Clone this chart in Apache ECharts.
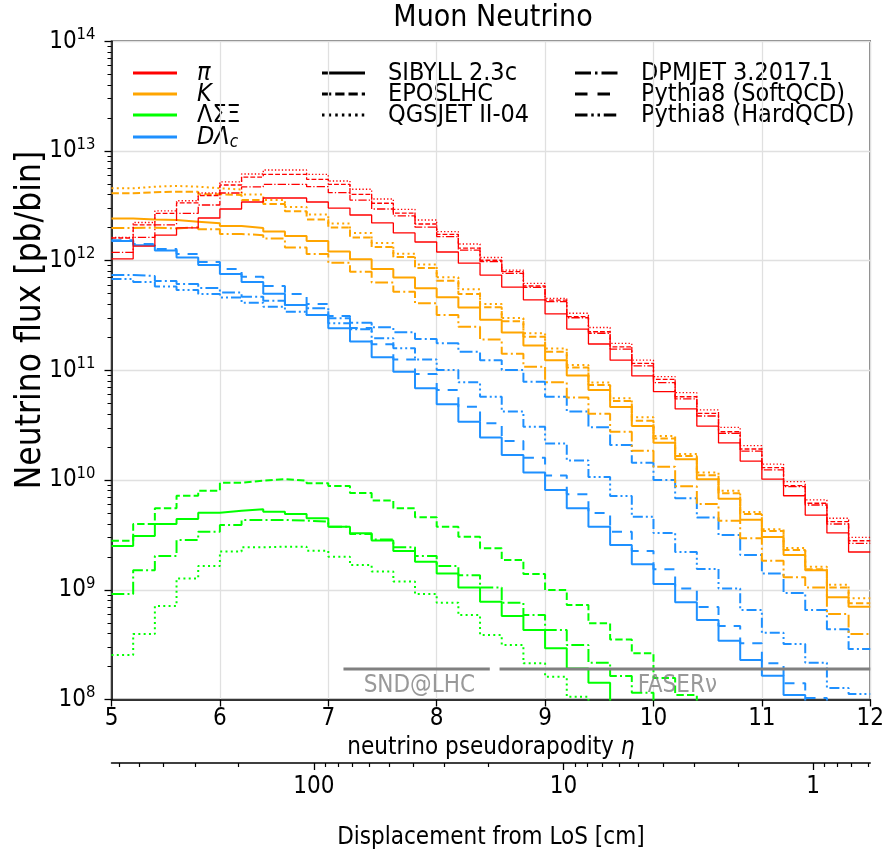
<!DOCTYPE html>
<html><head><meta charset="utf-8">
<script src="https://cdn.jsdelivr.net/npm/echarts@6/dist/echarts.min.js"></script>
<style>html,body{margin:0;padding:0;background:#fff}#c{width:887px;height:857px}</style>
</head><body><div id="c"></div>
<script>
// ---------- data (neutrino flux in pb/bin, bins of width 0.2 in eta) ----------
const etaEdges = [5.0,5.2,5.4,5.6,5.8,6.0,6.2,6.4,6.6,6.8,7.0,7.2,7.4,7.6,7.8,8.0,8.2,8.4,8.6,8.8,9.0,9.2,9.4,9.6,9.8,10.0,10.2,10.4,10.6,10.8,11.0,11.2,11.4,11.6,11.8,12.0];

const piSibyll = [1.04e12,1.36e12,1.71e12,1.99e12,2.45e12,2.96e12,3.43e12,3.73e12,3.73e12,3.43e12,3.02e12,2.61e12,2.21e12,1.79e12,1.48e12,1.20e12,9.5e11,7.4e11,5.75e11,4.4e11,3.27e11,2.38e11,1.74e11,1.24e11,8.9e10,6.4e10,4.45e10,3.11e10,2.18e10,1.49e10,1.02e10,7.2e9,4.8e9,3.3e9,2.21e9];
const piEpos = [1.61e12,2.12e12,2.70e12,3.36e12,3.93e12,4.90e12,5.79e12,6.13e12,6.13e12,5.52e12,4.97e12,4.03e12,3.34e12,2.72e12,2.16e12,1.74e12,1.30e12,1.01e12,7.94e11,5.88e11,4.38e11,3.09e11,2.25e11,1.64e11,1.16e11,8.30e10,5.75e10,4.06e10,2.76e10,1.92e10,1.30e10,8.89e9,6.15e9,4.18e9,2.80e9];
const piQgsjet = [1.63e12,2.23e12,2.84e12,3.52e12,4.14e12,5.22e12,6.17e12,6.71e12,6.71e12,6.13e12,5.33e12,4.48e12,3.65e12,2.94e12,2.35e12,1.84e12,1.42e12,1.07e12,8.22e11,6.22e11,4.54e11,3.32e11,2.46e11,1.76e11,1.24e11,8.76e10,6.26e10,4.36e10,3.03e10,2.06e10,1.40e10,9.67e9,6.59e9,4.49e9,3.01e9];
const piDpmjet = [1.19e12,1.63e12,2.12e12,2.70e12,3.22e12,4.14e12,4.70e12,4.97e12,4.97e12,4.73e12,4.17e12,3.57e12,2.96e12,2.56e12,2.02e12,1.66e12,1.25e12,9.79e11,7.67e11,5.72e11,4.23e11,3.02e11,2.18e11,1.56e11,1.10e11,7.73e10,5.49e10,3.84e10,2.67e10,1.84e10,1.24e10,8.71e9,5.93e9,3.98e9,2.65e9];

const kSibyll = [2.43e12,2.38e12,2.35e12,2.27e12,2.19e12,2.07e12,1.99e12,1.85e12,1.68e12,1.51e12,1.21e12,1.03e12,8.40e11,7.03e11,5.60e11,4.64e11,3.74e11,2.90e11,2.22e11,1.69e11,1.24e11,8.99e10,6.63e10,4.64e10,3.11e10,2.19e10,1.55e10,1.02e10,6.76e9,4.36e9,3.03e9,2.08e9,1.51e9,8.55e8,7.01e8];
const kEpos = [4.11e12,4.21e12,4.26e12,4.26e12,4.03e12,3.97e12,3.57e12,3.29e12,2.82e12,2.38e12,2.01e12,1.63e12,1.33e12,1.08e12,8.58e11,6.57e11,4.97e11,3.76e11,2.81e11,2.03e11,1.48e11,1.06e11,7.36e10,5.26e10,3.48e10,2.40e10,1.66e10,1.11e10,7.58e9,4.91e9,3.44e9,2.31e9,1.54e9,1.05e9,7.53e8];
const kQgsjet = [4.57e12,4.73e12,4.80e12,4.73e12,4.57e12,4.46e12,4.01e12,3.57e12,3.09e12,2.64e12,2.18e12,1.79e12,1.45e12,1.16e12,9.23e11,7.06e11,5.49e11,4.03e11,3.00e11,2.18e11,1.58e11,1.12e11,7.76e10,5.57e10,3.74e10,2.52e10,1.73e10,1.17e10,8.00e9,5.12e9,3.56e9,2.40e9,1.62e9,1.11e9,8.37e8];
const kDpmjet = [1.99e12,2.00e12,1.97e12,2.02e12,1.93e12,1.75e12,1.71e12,1.59e12,1.32e12,1.15e12,9.59e11,7.94e11,6.33e11,5.22e11,4.09e11,3.20e11,2.50e11,1.91e11,1.42e11,1.08e11,7.80e10,5.66e10,4.03e10,2.76e10,1.85e10,1.32e10,8.78e9,6.05e9,4.27e9,2.95e9,1.84e9,1.30e9,1.05e9,6.02e8,3.95e8];

// hyperons: last entry is the first bin that falls below the plotted range
const hypSibyll = [2.51e9,3.09e9,3.98e9,4.42e9,5.05e9,5.26e9,5.42e9,5.15e9,4.91e9,4.49e9,3.76e9,3.27e9,2.81e9,2.26e9,1.80e9,1.41e9,1.05e9,7.79e8,5.77e8,4.30e8,2.93e8,1.92e8,1.42e8,6e7];
const hypEpos = [2.80e9,3.98e9,5.53e9,7.21e9,8.00e9,9.47e9,9.87e9,1.02e10,9.87e9,9.35e9,8.84e9,7.63e9,6.52e9,5.53e9,4.58e9,3.76e9,3.05e9,2.39e9,1.87e9,1.39e9,9.96e8,7.27e8,4.95e8,3.52e8,2.64e8,1.57e8,1.10e8,6e7];
const hypQgsjet = [2.55e8,3.95e8,7.12e8,1.27e9,1.65e9,2.23e9,2.44e9,2.47e9,2.47e9,2.27e9,2.00e9,1.68e9,1.47e9,1.19e9,9.16e8,7.63e8,5.89e8,3.87e8,3.14e8,2.14e8,1.61e8,1.06e8,6e7];
const hypDpmjet = [9.16e8,1.51e9,2.03e9,2.84e9,3.39e9,3.90e9,4.33e9,4.33e9,4.27e9,4.18e9,3.76e9,3.23e9,2.87e9,2.44e9,2.03e9,1.65e9,1.36e9,1.05e9,7.63e8,5.89e8,4.30e8,3.14e8,2.16e8,1.64e8,1.15e8,6e7];

const charmSibyll = [1.51e12,1.38e12,1.24e12,1.07e12,9.14e11,7.57e11,6.40e11,5.00e11,3.95e11,3.20e11,2.42e11,1.83e11,1.32e11,9.73e10,6.87e10,4.91e10,3.41e10,2.45e10,1.69e10,1.17e10,8.13e9,5.53e9,3.76e9,2.56e9,1.71e9,1.13e9,7.69e8,5.31e8,3.44e8,2.29e8,1.65e8,1.10e8,6e7];
const charmDpmjet = [7.41e11,7.26e11,6.53e11,6.14e11,5.64e11,5.13e11,4.70e11,4.32e11,3.95e11,3.68e11,2.99e11,2.72e11,2.47e11,2.23e11,1.93e11,1.77e11,1.48e11,1.24e11,1.01e11,7.89e10,5.75e10,4.21e10,3.03e10,2.09e10,1.44e10,1.00e10,6.82e9,4.56e9,3.16e9,2.08e9,1.41e9,9.35e8,6.55e8,4.36e8,2.89e8];
const charmPythiaSoft = [1.54e12,1.42e12,1.28e12,1.15e12,9.73e11,8.40e11,7.15e11,5.88e11,4.97e11,4.03e11,3.13e11,2.44e11,1.73e11,1.26e11,9.27e10,6.63e10,4.67e10,3.30e10,2.27e10,1.60e10,1.10e10,7.43e9,5.01e9,3.39e9,2.26e9,1.54e9,1.03e9,6.97e8,4.68e8,3.25e8,2.14e8,1.41e8,1.03e8,6e7];
const charmPythiaHard = [6.81e11,6.40e11,5.82e11,5.41e11,4.97e11,4.62e11,4.14e11,3.81e11,3.43e11,3.20e11,2.69e11,2.37e11,1.96e11,1.59e11,1.26e11,1.01e11,7.79e10,5.75e10,4.21e10,3.07e10,2.16e10,1.51e10,1.07e10,7.16e9,4.64e9,3.30e9,2.21e9,1.55e9,1.03e9,6.55e8,4.06e8,3.21e8,2.16e8,1.27e8,1.12e8];

// detector acceptance annotations
const sndEta = [7.14, 8.49];
const faserEta = [8.58, 12.0];
const detectorLevel = 1.9e8;
const detectorLabels = [{name:'SND@LHC', eta:7.84, flux:1.33e8},{name:'FASERν', eta:10.22, flux:1.33e8}];

// y tick labels, displacement axis ticks
const yTickExponents = [8,9,10,11,12,13,14];
const dispMajor = [100, 10, 1];
const dispMinor = [600,500,400,300,200,90,80,70,60,50,40,30,20,9,8,7,6,5,4,3,2,0.9,0.8,0.7,0.6];
// displacement from line of sight (cm) -> pseudorapidity, distance 480 m
const dispToEta = d => Math.log(2 * 48000 / d);

// ---------- style ----------
const F = "'DejaVu Sans Condensed','DejaVu Sans',sans-serif";
const C = {pi:'#ff0000', K:'#ffa500', hyp:'#00ff00', charm:'#1e90ff'};
const dashes = {
  solid: null,
  dashed: [3.7,1.6],
  dotted: [1,1.65],
  dashdot: [6.4,1.6,1,1.6],
  longdash: [5,4],
  dashdotdot: [5,1.5,1,1.5,1,1.5]
};
function dashFor(kind, lw){ const d = dashes[kind]; return d ? d.map(v=>v*lw) : 'solid'; }

function stepData(vals){
  const pts = vals.map((v,i)=>[etaEdges[i], v]);
  pts.push([etaEdges[vals.length], vals[vals.length-1]]);
  return pts;
}
function mk(name, vals, color, kind, lw){
  return {name, type:'line', step:'end', symbol:'none', silent:true, animation:false, clip:true,
    data: stepData(vals), lineStyle:{color, width:lw, type: dashFor(kind, lw)}, emphasis:{disabled:true}, z:3};
}

const series = [
  mk('hypQgsjet', hypQgsjet, C.hyp, 'dotted', 2),
  mk('hypDpmjet', hypDpmjet, C.hyp, 'dashdot', 2),
  mk('hypEpos', hypEpos, C.hyp, 'dashed', 2),
  mk('hypSibyll', hypSibyll, C.hyp, 'solid', 2),
  mk('charmPythiaHard', charmPythiaHard, C.charm, 'dashdotdot', 2),
  mk('charmDpmjet', charmDpmjet, C.charm, 'dashdot', 2),
  mk('charmPythiaSoft', charmPythiaSoft, C.charm, 'longdash', 2),
  mk('charmSibyll', charmSibyll, C.charm, 'solid', 2),
  mk('kQgsjet', kQgsjet, C.K, 'dotted', 2),
  mk('kEpos', kEpos, C.K, 'dashed', 2),
  mk('kDpmjet', kDpmjet, C.K, 'dashdot', 2),
  mk('kSibyll', kSibyll, C.K, 'solid', 2),
  mk('piQgsjet', piQgsjet, C.pi, 'dotted', 1.3),
  mk('piEpos', piEpos, C.pi, 'dashed', 1.3),
  mk('piDpmjet', piDpmjet, C.pi, 'dashdot', 1.3),
  mk('piSibyll', piSibyll, C.pi, 'solid', 1.3),
  {type:'line', symbol:'none', silent:true, animation:false, data: sndEta.map(e=>[e, detectorLevel]),
    lineStyle:{color:'#808080', width:3}, z:4},
  {type:'line', symbol:'none', silent:true, animation:false, data: faserEta.map(e=>[e, detectorLevel]),
    lineStyle:{color:'#808080', width:3}, z:4},
  {type:'scatter', silent:true, animation:false, symbolSize:1, itemStyle:{color:'rgba(0,0,0,0)'}, z:4,
    data: detectorLabels.map(d=>({value:[d.eta, d.flux], name:d.name})),
    label:{show:true, position:'inside', formatter: p=>p.name, color:'#808080', fontSize:24, fontFamily:F}}
];

// ---------- legend drawn as graphics ----------
const legendRows = [73, 94, 115, 137];
const graphics = [];
const particleLegend = [
  {c:C.pi, t:'{i|π}'}, {c:C.K, t:'{i|K}'}, {c:C.hyp, t:'{n|ΛΣΞ}'}, {c:C.charm, t:'{i|DΛ}{s|c}'}
];
const richLeg = {
  i:{fontStyle:'italic', fontSize:25, fontFamily:F, lineHeight:28, fill:'#000'},
  n:{fontSize:25, fontFamily:F, lineHeight:28, fill:'#000'},
  s:{fontStyle:'italic', fontSize:17, fontFamily:F, lineHeight:17, verticalAlign:'bottom', fill:'#000'}
};
particleLegend.forEach((p,k)=>{
  graphics.push({type:'line', shape:{x1:133,y1:legendRows[k],x2:177,y2:legendRows[k]}, style:{stroke:p.c, lineWidth:2.8}});
  graphics.push({type:'text', x:197, y:legendRows[k], style:{text:p.t, rich:richLeg, verticalAlign:'middle', align:'left'}});
});
const genLegend = [
  {x:322, row:0, kind:'solid', t:'SIBYLL 2.3c'},
  {x:322, row:1, kind:'dashed', t:'EPOSLHC'},
  {x:322, row:2, kind:'dotted', t:'QGSJET II-04'},
  {x:575, row:0, kind:'dashdot', t:'DPMJET 3.2017.1'},
  {x:575, row:1, kind:'longdash', t:'Pythia8 (SoftQCD)'},
  {x:575, row:2, kind:'dashdotdot', t:'Pythia8 (HardQCD)'}
];
genLegend.forEach(g=>{
  const y = legendRows[g.row];
  const d = dashes[g.kind];
  graphics.push({type:'line', shape:{x1:g.x,y1:y,x2:g.x+43,y2:y}, style:{stroke:'#000', lineWidth:2.8, lineDash: d ? d.map(v=>v*2.5) : null}});
  graphics.push({type:'text', x:g.x+66, y:y, style:{text:g.t, fontSize:25, fontFamily:F, fill:'#000', verticalAlign:'middle', align:'left'}});
});
// y-axis title (rotated)
graphics.push({type:'text', x:31, y:320, rotation:Math.PI/2,
  style:{text:'Neutrino flux [pb/bin]', fontSize:35, fontFamily:F, fill:'#000', align:'center', verticalAlign:'middle'}});

// ---------- option ----------
const dispMajorEta = dispMajor.map(dispToEta);
const dispMinorEta = dispMinor.map(dispToEta);

const option = {
  backgroundColor:'#fff',
  animation:false,
  title:{text:'Muon Neutrino', left:493, top:3, textAlign:'center', padding:0,
    textStyle:{fontSize:30, fontWeight:'normal', fontFamily:F, color:'#000'}},
  grid:{left:111.5, right:12.5, top:41.3, bottom:157.5, show:true, borderColor:'#000', borderWidth:1.5, backgroundColor:'#fff'},
  xAxis:[
    {type:'value', min:5, max:12, interval:1, position:'bottom',
      axisLine:{show:true, onZero:false, lineStyle:{color:'#000', width:1.5}},
      axisTick:{show:true, inside:false, length:7, lineStyle:{color:'#000', width:1.3}},
      axisLabel:{fontSize:24, fontFamily:F, color:'#000', margin:7},
      splitLine:{show:true, lineStyle:{color:'#e0e0e0', width:1.3}},
      name:'neutrino pseudorapodity {i|η}', nameLocation:'middle', nameGap:32,
      nameTextStyle:{fontSize:24, fontFamily:F, color:'#000', rich:{i:{fontStyle:'italic', fontSize:24, fontFamily:F}}}},
    {type:'value', min:5, max:12, position:'bottom', offset:63.5,
      axisLine:{show:false}, splitLine:{show:false}, axisLabel:{show:false},
      axisTick:{show:true, length:4, customValues:dispMinorEta, lineStyle:{color:'#000', width:1.2}}},
    {type:'value', min:5, max:12, position:'bottom', offset:63.5,
      axisLine:{show:true, onZero:false, lineStyle:{color:'#000', width:1.5}}, splitLine:{show:false},
      axisTick:{show:true, length:7, customValues:dispMajorEta, lineStyle:{color:'#000', width:1.3}},
      axisLabel:{show:true, customValues:dispMajorEta, fontSize:24, fontFamily:F, color:'#000', margin:12,
        formatter: v => { let best=0; dispMajorEta.forEach((e,i)=>{ if(Math.abs(e-v)<Math.abs(dispMajorEta[best]-v)) best=i; }); return String(dispMajor[best]); }},
      name:'Displacement from LoS [cm]', nameLocation:'middle', nameGap:63,
      nameTextStyle:{fontSize:24, fontFamily:F, color:'#000'}}
  ],
  yAxis:{type:'log', logBase:10, min:1e8, max:1e14, splitNumber:6,
    axisLine:{show:true, onZero:false, lineStyle:{color:'#000', width:1.5}},
    axisTick:{show:true, inside:false, length:7, lineStyle:{color:'#000', width:1.3}},
    minorTick:{show:true, splitNumber:9, length:4, lineStyle:{color:'#000', width:1}},
    splitLine:{show:true, lineStyle:{color:'#e0e0e0', width:1.3}},
    minorSplitLine:{show:false},
    axisLabel:{margin:16, color:'#000',
      formatter: v => { const e = Math.round(Math.log10(v)); return yTickExponents.indexOf(e)>=0 ? '{b|10}{s|'+e+'}' : ''; },
      rich:{b:{fontSize:24, fontFamily:F, lineHeight:30, color:'#000'}, s:{fontSize:16.5, fontFamily:F, lineHeight:17, verticalAlign:'top', color:'#000'}}}},
  series,
  graphic: graphics
};

const chart = echarts.init(document.getElementById('c'), null, {renderer:'canvas', width:887, height:857});
chart.setOption(option);
</script>
</body></html>
